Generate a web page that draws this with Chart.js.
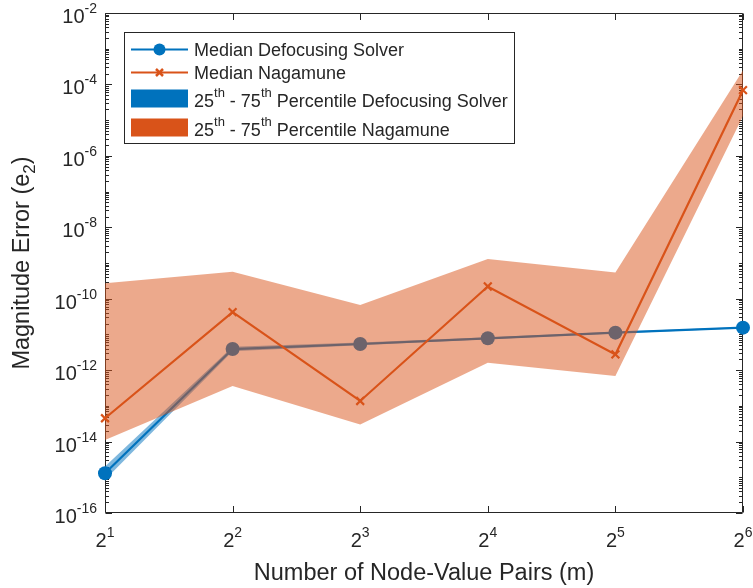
<!DOCTYPE html>
<html>
<head>
<meta charset="utf-8">
<script src="https://cdn.jsdelivr.net/npm/chart.js@4.4.1/dist/chart.umd.min.js"></script>
<style>
  html, body { margin: 0; padding: 0; background: #ffffff; }
  #wrap { width: 753px; height: 588px; position: relative; }
</style>
</head>
<body>
<div id="wrap"><canvas id="chart" width="753" height="588"></canvas></div>
<script>
// Number of node-value pairs m (powers of two)
const nodeCounts = [2, 4, 8, 16, 32, 64];
const xTickLabels = ['2^{1}', '2^{2}', '2^{3}', '2^{4}', '2^{5}', '2^{6}'];
const yTickValues = [1e-16, 1e-14, 1e-12, 1e-10, 1e-8, 1e-6, 1e-4, 1e-2];
const yTickLabels = ['10^{-16}', '10^{-14}', '10^{-12}', '10^{-10}', '10^{-8}', '10^{-6}', '10^{-4}', '10^{-2}'];

// Magnitude error e2, defocusing solver
const defocusMedian = [1.3e-15, 3.9e-12, 5.4e-12, 7.8e-12, 1.12e-11, 1.55e-11];
const defocusP25    = [0.85e-15, 3.4e-12, 5.0e-12, 7.3e-12, 1.06e-11, 1.48e-11];
const defocusP75    = [2.0e-15, 4.5e-12, 5.9e-12, 8.4e-12, 1.18e-11, 1.62e-11];

// Magnitude error e2, Nagamune
const nagamuneMedian = [4.5e-14, 4.2e-11, 1.37e-13, 2.2e-10, 2.75e-12, 6.9e-5];
const nagamuneP25    = [1.1e-14, 3.6e-13, 3.0e-14, 1.6e-12, 6.9e-13, 1.3e-5];
const nagamuneP75    = [2.7e-10, 5.7e-10, 6.7e-11, 1.3e-9, 5.4e-10, 2.5e-4];

const legendLabels = [
  'Median Defocusing Solver',
  'Median Nagamune',
  '25^{th} - 75^{th} Percentile Defocusing Solver',
  '25^{th} - 75^{th} Percentile Nagamune'
];
const xTitle = 'Number of Node-Value Pairs (m)';
const yTitle = 'Magnitude Error (e_{2})';

const BLUE = '#0072BD';
const ORANGE = '#D95319';
const INK = '#262626';
const FAMILY = '"Liberation Sans", Arial, Helvetica, sans-serif';

const pts = (ys) => nodeCounts.map((x, i) => ({ x: x, y: ys[i] }));

// ---- text with ^{..} superscripts and _{..} subscripts ----
function parseRich(str) {
  const segs = [];
  let buf = '';
  let i = 0;
  while (i < str.length) {
    const c = str[i];
    if ((c === '^' || c === '_') && str[i + 1] === '{') {
      if (buf) { segs.push({ t: buf, k: 0 }); buf = ''; }
      const end = str.indexOf('}', i);
      segs.push({ t: str.slice(i + 2, end), k: c === '^' ? 1 : -1 });
      i = end + 1;
    } else { buf += c; i++; }
  }
  if (buf) segs.push({ t: buf, k: 0 });
  return segs;
}

function drawRich(ctx, str, x, y, o) {
  const segs = parseRich(str);
  let w = 0;
  segs.forEach(s => {
    ctx.font = (s.k ? o.script : o.size) + 'px ' + FAMILY;
    s.w = ctx.measureText(s.t).width;
    w += s.w;
  });
  let cx = o.align === 'right' ? x - w : (o.align === 'center' ? x - w / 2 : x);
  ctx.textAlign = 'left';
  ctx.textBaseline = 'alphabetic';
  ctx.fillStyle = o.color || INK;
  segs.forEach(s => {
    ctx.font = (s.k ? o.script : o.size) + 'px ' + FAMILY;
    const dy = s.k === 1 ? -o.raise : (s.k === -1 ? o.drop : 0);
    ctx.fillText(s.t, cx, y + dy);
    cx += s.w;
  });
}

// ---- axes box, inward ticks (drawn under the data, like a bottom layer) ----
const axesPlugin = {
  id: 'axesBox',
  beforeDatasetsDraw(chart) {
    const { ctx, chartArea: a, scales } = chart;
    const xs = scales.x, ys = scales.y;
    const L = Math.round(a.left) + 0.5, R = Math.round(a.right) - 0.5;
    const T = Math.round(a.top) + 0.5, B = Math.round(a.bottom) - 0.5;
    ctx.save();
    ctx.strokeStyle = INK;
    ctx.lineWidth = 1;
    ctx.beginPath();
    ctx.rect(L, T, R - L, B - T);
    ctx.stroke();

    ctx.beginPath();
    // x major ticks, bottom and top
    nodeCounts.forEach(v => {
      const px = Math.round(xs.getPixelForValue(v)) + 0.5;
      ctx.moveTo(px, B); ctx.lineTo(px, B - 6.5);
      ctx.moveTo(px, T); ctx.lineTo(px, T + 6.5);
    });
    // y major ticks
    yTickValues.forEach(v => {
      const py = Math.round(ys.getPixelForValue(v)) + 0.5;
      ctx.moveTo(L, py); ctx.lineTo(L + 6.5, py);
      ctx.moveTo(R, py); ctx.lineTo(R - 6.5, py);
    });
    // y minor ticks
    for (let k = -16; k < -2; k++) {
      for (let m = 1; m <= 9; m++) {
        if (m === 1 && k % 2 === 0) continue;
        const py = Math.round(ys.getPixelForValue(m * Math.pow(10, k))) + 0.5;
        ctx.moveTo(L, py); ctx.lineTo(L + 3.5, py);
        ctx.moveTo(R, py); ctx.lineTo(R - 3.5, py);
      }
    }
    ctx.stroke();
    ctx.restore();
  },
  afterDraw(chart) {
    const { ctx, chartArea: a, scales } = chart;
    const xs = scales.x, ys = scales.y;
    ctx.save();
    // tick labels
    nodeCounts.forEach((v, i) => {
      drawRich(ctx, xTickLabels[i], xs.getPixelForValue(v), a.bottom + 34,
        { size: 20, script: 14, raise: 10, drop: 0, align: 'center' });
    });
    yTickValues.forEach((v, i) => {
      drawRich(ctx, yTickLabels[i], a.left - 8, ys.getPixelForValue(v) + 10,
        { size: 20, script: 14, raise: 10, drop: 0, align: 'right' });
    });
    // axis titles
    drawRich(ctx, xTitle, (a.left + a.right) / 2, a.bottom + 67,
      { size: 23.5, script: 16, raise: 10, drop: 5, align: 'center' });
    ctx.translate(29, (a.top + a.bottom) / 2);
    ctx.rotate(-Math.PI / 2);
    drawRich(ctx, yTitle, 0, 0,
      { size: 23.5, script: 17, raise: 10, drop: 6, align: 'center' });
    ctx.restore();

    // legend
    ctx.save();
    const bx = 124.5, by = 32.5, bw = 390, bh = 111;
    ctx.fillStyle = '#ffffff';
    ctx.fillRect(bx, by, bw, bh);
    ctx.strokeStyle = INK;
    ctx.lineWidth = 1;
    ctx.strokeRect(bx, by, bw, bh);
    const rowY = [49.5, 72.5, 98.5, 127.5];
    const sx0 = 131, sx1 = 188, sxm = (sx0 + sx1) / 2, tx = 194;
    // row 1: blue line with circle marker
    ctx.strokeStyle = BLUE; ctx.lineWidth = 2.2;
    ctx.beginPath(); ctx.moveTo(sx0, rowY[0]); ctx.lineTo(sx1, rowY[0]); ctx.stroke();
    ctx.fillStyle = BLUE;
    ctx.beginPath(); ctx.arc(sxm, rowY[0], 6, 0, Math.PI * 2); ctx.fill();
    // row 2: orange line with x marker
    ctx.strokeStyle = ORANGE;
    ctx.beginPath(); ctx.moveTo(sx0, rowY[1]); ctx.lineTo(sx1, rowY[1]); ctx.stroke();
    ctx.lineWidth = 2.5;
    ctx.beginPath();
    ctx.moveTo(sxm - 3.5, rowY[1] - 3.5); ctx.lineTo(sxm + 3.5, rowY[1] + 3.5);
    ctx.moveTo(sxm + 3.5, rowY[1] - 3.5); ctx.lineTo(sxm - 3.5, rowY[1] + 3.5);
    ctx.stroke();
    // rows 3, 4: patches
    ctx.fillStyle = BLUE;
    ctx.fillRect(sx0, rowY[2] - 9, sx1 - sx0, 18);
    ctx.fillStyle = ORANGE;
    ctx.fillRect(sx0, rowY[3] - 9, sx1 - sx0, 18);
    const lo = { size: 18, script: 13, raise: 10, drop: 0, align: 'left' };
    drawRich(ctx, legendLabels[0], tx, rowY[0] + 6.5, lo);
    drawRich(ctx, legendLabels[1], tx, rowY[1] + 6.5, lo);
    drawRich(ctx, legendLabels[2], tx, rowY[2] + 8.5, lo);
    drawRich(ctx, legendLabels[3], tx, rowY[3] + 8.5, lo);
    ctx.restore();
  }
};

const bandStyle = (color) => ({
  borderColor: 'rgba(0,0,0,0)',
  borderWidth: 0,
  backgroundColor: color,
  pointRadius: 0,
  pointHoverRadius: 0,
  tension: 0
});

new Chart(document.getElementById('chart'), {
  type: 'line',
  data: {
    datasets: [
      {
        label: 'Median Nagamune',
        data: pts(nagamuneMedian),
        borderColor: ORANGE,
        borderWidth: 2.2,
        pointStyle: 'crossRot',
        pointRadius: 5.5,
        pointBorderWidth: 2.2,
        pointBorderColor: ORANGE,
        fill: false,
        clip: false,
        order: 0
      },
      Object.assign({ label: 'Nagamune 75th', data: pts(nagamuneP75), fill: '+1', order: 1 },
        bandStyle('rgba(217,83,25,0.5)')),
      Object.assign({ label: 'Nagamune 25th', data: pts(nagamuneP25), fill: false, order: 1 },
        bandStyle('rgba(217,83,25,0.5)')),
      {
        label: 'Median Defocusing Solver',
        data: pts(defocusMedian),
        borderColor: BLUE,
        borderWidth: 2.2,
        pointStyle: 'circle',
        pointRadius: 7,
        pointBackgroundColor: BLUE,
        pointBorderColor: BLUE,
        pointBorderWidth: 0,
        fill: false,
        clip: false,
        order: 2
      },
      Object.assign({ label: 'Defocusing 75th', data: pts(defocusP75), fill: '+1', order: 3 },
        bandStyle('rgba(0,114,189,0.5)')),
      Object.assign({ label: 'Defocusing 25th', data: pts(defocusP25), fill: false, order: 3 },
        bandStyle('rgba(0,114,189,0.5)'))
    ]
  },
  options: {
    responsive: false,
    animation: false,
    events: [],
    layout: { padding: { left: 105, right: 10, top: 13, bottom: 75 } },
    elements: { line: { tension: 0 } },
    scales: {
      x: { type: 'logarithmic', min: 2, max: 64, display: false },
      y: { type: 'logarithmic', min: 1e-16, max: 1e-2, display: false }
    },
    plugins: {
      legend: { display: false },
      tooltip: { enabled: false },
      filler: { drawTime: 'beforeDatasetDraw' }
    }
  },
  plugins: [axesPlugin]
});
</script>
</body>
</html>
